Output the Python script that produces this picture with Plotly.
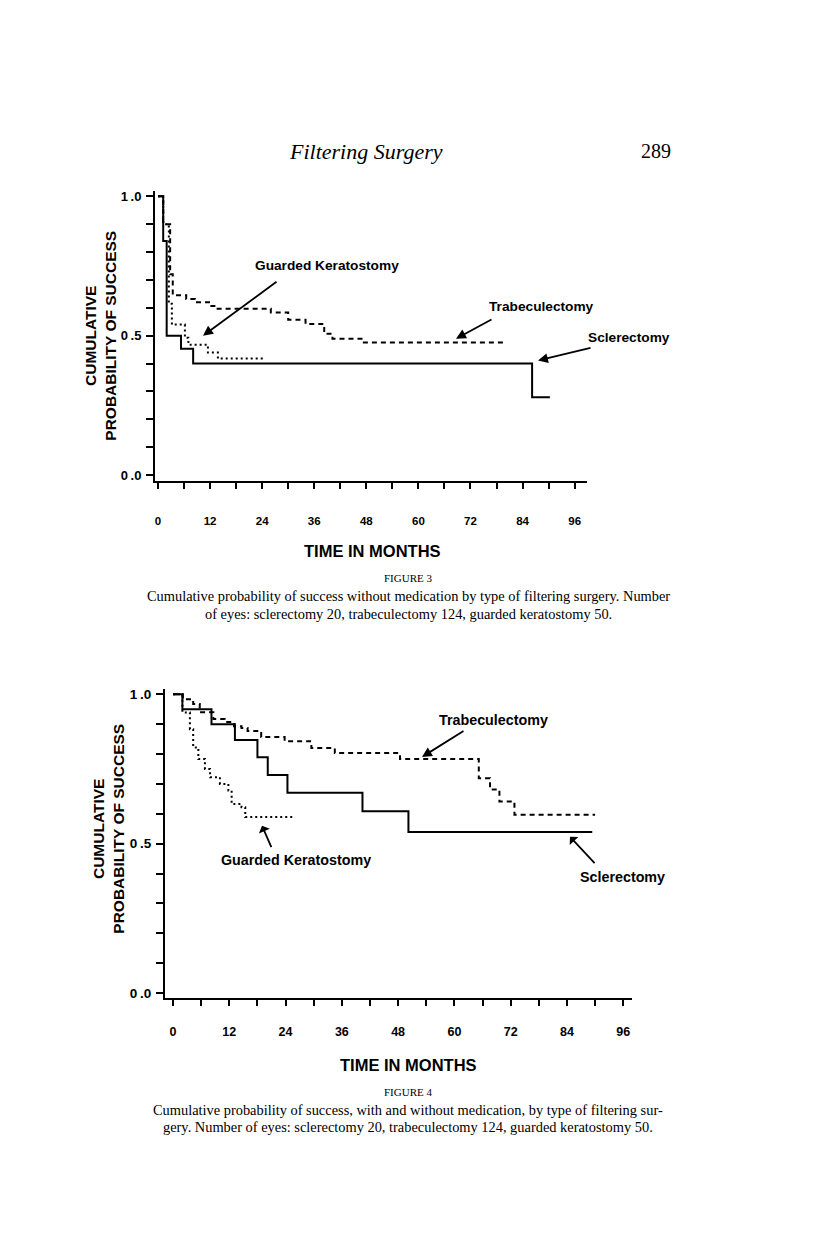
import plotly.graph_objects as go

W, H = 816, 1246
OFF = 8  # page body margin in the browser

# ---------------- Figure 3 data (months, cumulative probability) ----------------
f3_scl_t = [0, 1.2, 2.0, 5.3, 8.1, 86.2, 90.3]
f3_scl_v = [1.0, 0.84, 0.50, 0.453, 0.40, 0.279, 0.279]
f3_trab_t = [0, 1.2, 2.8, 3.4, 6.5, 8.5, 12, 13.5, 26, 30, 34, 38.3, 40.2, 47.2, 79.6]
f3_trab_v = [1.0, 0.90, 0.72, 0.645, 0.632, 0.62, 0.607, 0.597, 0.583, 0.557, 0.542, 0.507, 0.489, 0.476, 0.476]
f3_gk_t = [0, 1.2, 2.5, 3.2, 6.2, 7.0, 11.5, 13.8, 24.7]
f3_gk_v = [1.0, 0.90, 0.615, 0.54, 0.493, 0.468, 0.44, 0.418, 0.418]

# ---------------- Figure 4 data ----------------
f4_scl_t = [0, 2.0, 8.2, 13.2, 18.0, 20.2, 24.4, 40.4, 50.2, 89.4]
f4_scl_v = [1.0, 0.95, 0.90, 0.847, 0.789, 0.73, 0.67, 0.608, 0.539, 0.539]
f4_trab_t = [0, 2.1, 4.3, 5.7, 8.6, 11, 13, 14.6, 15.9, 18.8, 23.8, 29.5, 34.5, 48.4, 65.2, 67.6, 69.6, 72.8, 90]
f4_trab_v = [1.0, 0.983, 0.967, 0.94, 0.917, 0.907, 0.893, 0.887, 0.877, 0.857, 0.843, 0.82, 0.803, 0.783, 0.719, 0.681, 0.641, 0.597, 0.597]
f4_gk_t = [0, 2.0, 3.6, 4.3, 5.4, 6.8, 7.9, 10.0, 11.8, 12.5, 14.6, 15.4, 25.7]
f4_gk_v = [1.0, 0.939, 0.883, 0.822, 0.783, 0.75, 0.722, 0.70, 0.678, 0.633, 0.622, 0.589, 0.589]

x_tickvals = list(range(0, 97, 6))
x_ticktext = [str(v) if v % 12 == 0 else "" for v in x_tickvals]
y_tickvals = [i / 10 for i in range(11)]
y_ticktext = ["0\u2009.0" if i == 0 else ("0\u2009.5" if i == 5 else ("1\u2009.0" if i == 10 else "")) for i in range(11)]

SANS = "Liberation Sans, Arial, sans-serif"
SERIF = "Liberation Serif, Times New Roman, serif"


def px(x):
    return (x - OFF) / W


def py(y):
    return 1 - (y - OFF) / H


fig = go.Figure()

line_styles = {"scl": "solid", "trab": "5px,4px", "gk": "2px,3px"}

for (t, v, kind) in [(f3_scl_t, f3_scl_v, "scl"), (f3_trab_t, f3_trab_v, "trab"), (f3_gk_t, f3_gk_v, "gk")]:
    fig.add_trace(go.Scatter(x=t, y=v, mode="lines", line_shape="hv",
                             line=dict(color="black", width=2, dash=line_styles[kind]),
                             xaxis="x", yaxis="y", showlegend=False, hoverinfo="skip"))

for (t, v, kind) in [(f4_scl_t, f4_scl_v, "scl"), (f4_trab_t, f4_trab_v, "trab"), (f4_gk_t, f4_gk_v, "gk")]:
    fig.add_trace(go.Scatter(x=t, y=v, mode="lines", line_shape="hv",
                             line=dict(color="black", width=2, dash=line_styles[kind]),
                             xaxis="x2", yaxis="y2", showlegend=False, hoverinfo="skip"))


def tf(size):
    return dict(family=SANS, size=size, color="black", weight="bold")


common_x = dict(tickmode="array", tickvals=x_tickvals, ticktext=x_ticktext, ticks="outside",
                ticklen=6, tickwidth=2, tickcolor="black", showline=True, linecolor="black",
                linewidth=2, showgrid=False, zeroline=False)
common_y = dict(tickmode="array", tickvals=y_tickvals, ticktext=y_ticktext, ticks="outside",
                ticklen=7, tickwidth=1.5, tickcolor="black", showline=True, linecolor="black",
                linewidth=2, showgrid=False, zeroline=False, ticklabelstandoff=2)

fig.update_layout(
    width=W, height=H, margin=dict(l=0, r=0, t=0, b=0),
    paper_bgcolor="white", plot_bgcolor="white",
    xaxis=dict(domain=[px(155), px(587)], range=[-0.69, 98.85], anchor="y",
               ticklabelstandoff=22, tickfont=tf(11.5), **common_x),
    yaxis=dict(domain=[py(481), py(190)], range=[-0.0214, 1.018], anchor="x",
               tickfont=tf(13), **common_y),
    xaxis2=dict(domain=[px(165), px(632)], range=[-1.71, 97.87], anchor="y2",
                ticklabelstandoff=15, tickfont=tf(12.5), **common_x),
    yaxis2=dict(domain=[py(1000), py(690)], range=[-0.0167, 1.0167], anchor="x2",
                tickfont=tf(13.5), **common_y),
)

ann = []


def text(x, y, s, size=13, family=SANS, bold=True, italic=False, angle=0, color="black"):
    f = dict(family=family, size=size, color=color)
    if bold:
        f["weight"] = "bold"
    if italic:
        f["style"] = "italic"
    ann.append(dict(x=px(x), y=py(y), xref="paper", yref="paper", text=s, showarrow=False,
                    xanchor="center", yanchor="middle", font=f, textangle=angle))


def arrow(tail, tip, head=2):
    ann.append(dict(x=px(tip[0]), y=py(tip[1]), xref="paper", yref="paper", text="",
                    showarrow=True, arrowhead=head, arrowsize=1.1, arrowwidth=1.8,
                    arrowcolor="black", ax=tail[0] - tip[0], ay=tail[1] - tip[1]))


# Page header
text(366, 150, "Filtering Surgery", size=22, family=SERIF, bold=False, italic=True)
text(656, 150, "289", size=20, family=SERIF, bold=False)

# Figure 3 labels
text(101, 335, "CUMULATIVE<br>PROBABILITY OF SUCCESS", size=15.5, angle=-90)
text(372, 551, "TIME IN MONTHS", size=16.5)
text(327, 265, "Guarded Keratostomy", size=13.7)
text(541, 306, "Trabeculectomy", size=13.7)
text(629, 337, "Sclerectomy", size=13.7)
arrow((278, 280), (203, 335))
arrow((493, 318), (456, 338))
arrow((592, 347), (538, 360))
text(408, 578, "FIGURE 3", size=11, family=SERIF, bold=False)
text(408, 596, "Cumulative probability of success without medication by type of filtering surgery. Number",
     size=14.4, family=SERIF, bold=False)
text(408, 614, "of eyes: sclerectomy 20, trabeculectomy 124, guarded keratostomy 50.",
     size=14.4, family=SERIF, bold=False)

# Figure 4 labels
text(109, 830, "CUMULATIVE<br>PROBABILITY OF SUCCESS", size=15.5, angle=-90)
text(408, 1067, "TIME IN MONTHS", size=16.5)
text(493, 721, "Trabeculectomy", size=14.3)
text(296, 861, "Guarded Keratostomy", size=14.3)
text(622, 878, "Sclerectomy", size=14.3)
arrow((465, 731), (422, 758))
arrow((272, 850), (262, 827), head=1)
arrow((596, 866), (570, 838), head=1)
text(408, 1094, "FIGURE 4", size=11, family=SERIF, bold=False)
text(408, 1112, "Cumulative probability of success, with and without medication, by type of filtering sur-",
     size=14.4, family=SERIF, bold=False)
text(408, 1130, "gery. Number of eyes: sclerectomy 20, trabeculectomy 124, guarded keratostomy 50.",
     size=14.4, family=SERIF, bold=False)

fig.update_layout(annotations=ann)

fig.write_html("out.html")
